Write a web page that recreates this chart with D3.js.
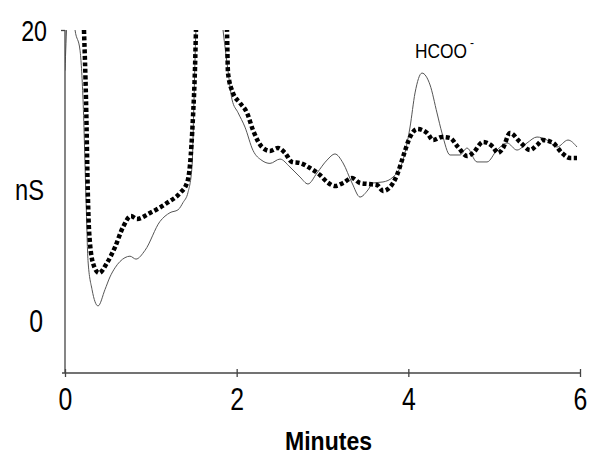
<!DOCTYPE html>
<html>
<head>
<meta charset="utf-8">
<script src="https://cdn.jsdelivr.net/npm/d3@7"></script>
<style>
  body { margin: 0; background: #fff; }
  text { font-family: "Liberation Sans", Arial, sans-serif; }
</style>
</head>
<body>
<svg id="chart" width="589" height="455"></svg>
<script>
// minutes / nS; values above 20 are off-scale and get clipped
const solidTime = [0, 0.023, 0.06, 0.117, 0.175, 0.21, 0.245, 0.268, 0.315, 0.385, 0.466, 0.524, 0.583, 0.699, 0.757, 0.827, 0.932, 1.107, 1.223, 1.317, 1.375, 1.433, 1.48, 1.503, 1.526, 1.63, 1.748, 1.841, 1.899, 1.946, 2.016, 2.097, 2.19, 2.295, 2.388, 2.505, 2.621, 2.738, 2.831, 2.936, 3.053, 3.146, 3.239, 3.344, 3.437, 3.53, 3.589, 3.705, 3.822, 3.938, 4.02, 4.078, 4.159, 4.253, 4.334, 4.392, 4.486, 4.602, 4.684, 4.8, 4.917, 5.033, 5.15, 5.266, 5.383, 5.499, 5.616, 5.732, 5.86, 5.965];
const solidNS = [17.2, 20.7, 23.4, 20.0, 18.6, 15.2, 8.3, 4.1, 2.1, 0.97, 2.1, 2.97, 3.6, 4.3, 4.4, 4.2, 4.8, 6.8, 7.4, 7.6, 8.1, 8.8, 10.6, 15.2, 20, 25.5, 25.5, 20, 17.2, 15.2, 14.3, 13.3, 11.7, 11.0, 10.8, 11.1, 10.55, 9.86, 9.38, 10.14, 11.03, 11.45, 10.83, 9.45, 8.48, 8.97, 9.45, 9.52, 9.86, 11.03, 13.31, 15.66, 17.03, 16.21, 14.28, 12.9, 11.38, 11.38, 11.86, 10.9, 10.9, 11.72, 12.21, 11.72, 12.21, 12.62, 12.41, 11.93, 12.41, 11.93];

const dotTime = [0.221, 0.245, 0.268, 0.28, 0.326, 0.396, 0.489, 0.583, 0.676, 0.769, 0.839, 0.99, 1.188, 1.34, 1.421, 1.456, 1.491, 1.515, 1.526, 1.573, 1.829, 1.887, 1.899, 1.957, 2.039, 2.121, 2.19, 2.295, 2.388, 2.482, 2.563, 2.645, 2.738, 2.854, 2.971, 3.053, 3.146, 3.239, 3.344, 3.437, 3.53, 3.635, 3.705, 3.787, 3.868, 3.938, 4.02, 4.101, 4.218, 4.288, 4.392, 4.486, 4.579, 4.684, 4.754, 4.87, 4.987, 5.045, 5.103, 5.185, 5.301, 5.418, 5.499, 5.569, 5.686, 5.79, 5.884, 5.965];
const dotNS = [20, 15.17, 8.28, 6.21, 3.93, 3.24, 3.93, 5.03, 6.41, 7.17, 6.97, 7.38, 8.07, 8.76, 9.45, 10.69, 14.0, 17.45, 20, 25.5, 25.5, 20, 17.03, 15.66, 14.97, 14.28, 13.1, 11.93, 11.66, 11.86, 11.52, 10.9, 10.83, 10.48, 10.0, 9.52, 9.24, 9.45, 9.79, 9.45, 9.38, 9.31, 8.9, 9.17, 10.0, 11.24, 12.62, 13.17, 12.9, 12.41, 12.62, 12.55, 11.93, 11.31, 11.52, 12.28, 11.93, 11.52, 11.86, 12.9, 12.28, 11.72, 12.07, 12.41, 12.21, 11.52, 11.17, 11.17];

const xTicks = [0, 2, 4, 6];
const yTicks = [0, 20];

const svg = d3.select("#chart");

const x = d3.scaleLinear().domain([0, 6]).range([65, 580]);
const y = d3.scaleLinear().domain([0, 20]).range([320, 30]);
const yBottom = 373;
const squeeze = 0.8; // the original type is a narrow face

svg.append("defs").append("clipPath").attr("id", "plot")
  .append("rect").attr("x", 65).attr("y", 30).attr("width", 524).attr("height", yBottom - 30);

const plot = svg.append("g").attr("clip-path", "url(#plot)");

const line = d3.line()
  .x(d => x(d[0]))
  .y(d => y(d[1]))
  .curve(d3.curveMonotoneX);

plot.append("path")
  .datum(d3.zip(solidTime, solidNS))
  .attr("d", line)
  .attr("fill", "none")
  .attr("stroke", "#555")
  .attr("stroke-width", 1);

plot.append("path")
  .datum(d3.zip(dotTime, dotNS))
  .attr("d", line)
  .attr("fill", "none")
  .attr("stroke", "#000")
  .attr("stroke-width", 4.5)
  .attr("stroke-dasharray", "4,2.5");

// x axis
const xAxis = svg.append("g")
  .attr("transform", "translate(0," + yBottom + ")")
  .call(d3.axisBottom(x).tickValues(xTicks).tickFormat(d3.format("d")).tickSize(4).tickSizeOuter(0));
xAxis.select(".domain").attr("d", "M62,0H580").attr("stroke", "#444").attr("stroke-width", 1.3);
xAxis.selectAll(".tick line").attr("y1", -4).attr("y2", 4).attr("stroke", "#444").attr("stroke-width", 1.3);
xAxis.selectAll(".tick text")
  .attr("y", 37)
  .attr("dy", 0)
  .attr("font-size", 31)
  .attr("transform", "scale(" + squeeze + ",1)")
  .attr("fill", "#000");

// y axis
const yAxis = svg.append("g")
  .attr("transform", "translate(65,0)")
  .call(d3.axisLeft(y).tickValues(yTicks).tickFormat(d3.format("d")).tickSize(4).tickSizeOuter(0));
yAxis.select(".domain").attr("d", "M0,30V" + yBottom).attr("stroke", "#444").attr("stroke-width", 1.3);
yAxis.selectAll(".tick line").attr("stroke", "#444").attr("stroke-width", 1.3)
  .attr("display", d => d === 0 ? "none" : null);
yAxis.selectAll(".tick text")
  .attr("font-size", d => d === 0 ? 31 : 29)
  .attr("dy", "0.36em")
  .attr("x", d => (d === 0 ? -22 : -18) / squeeze)
  .attr("transform", "scale(" + squeeze + ",1)")
  .attr("fill", "#000");

svg.append("text")
  .attr("x", 44).attr("y", 200)
  .attr("text-anchor", "end")
  .attr("font-size", 30)
  .attr("textLength", 29)
  .attr("lengthAdjust", "spacingAndGlyphs")
  .text("nS");

svg.append("text")
  .attr("x", 285).attr("y", 450)
  .attr("font-size", 26)
  .attr("font-weight", "bold")
  .attr("textLength", 87)
  .attr("lengthAdjust", "spacingAndGlyphs")
  .text("Minutes");

svg.append("text")
  .attr("x", 415).attr("y", 58)
  .attr("font-size", 21)
  .attr("textLength", 52)
  .attr("lengthAdjust", "spacingAndGlyphs")
  .text("HCOO");
svg.append("text")
  .attr("x", 470).attr("y", 47)
  .attr("font-size", 12)
  .text("-");
</script>
</body>
</html>
